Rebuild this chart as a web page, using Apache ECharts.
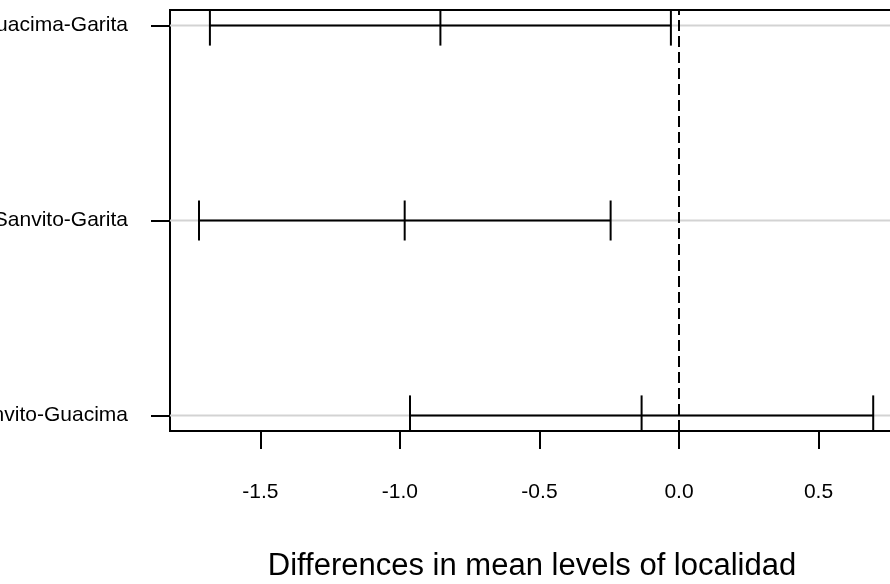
<!DOCTYPE html>
<html>
<head>
<meta charset="utf-8">
<script src="https://cdn.jsdelivr.net/npm/echarts@6/dist/echarts.min.js"></script>
<style>html,body{margin:0;padding:0;background:#fff;}#c{width:890px;height:584px;}</style>
</head>
<body>
<div id="c"></div>
<script>
// Comparisons, listed bottom to top (y position 1..3)
var comparisons = ['Sanvito-Guacima', 'Sanvito-Garita', 'Guacima-Garita'];
var diffs = [-0.134, -0.983, -0.855];
var lowers = [-0.964, -1.720, -1.681];
var uppers = [0.696, -0.245, -0.029];
var xTicks = [-1.5, -1.0, -0.5, 0.0, 0.5];
var xTitle = 'Differences in mean levels of localidad';

var FONT = '"Liberation Sans", Arial, sans-serif';
var data = comparisons.map(function (c, i) {
  return [lowers[i], diffs[i], uppers[i], i + 1];
});

var chart = echarts.init(document.getElementById('c'), null, {renderer: 'canvas'});
chart.setOption({
  animation: false,
  backgroundColor: '#fff',
  grid: {left: 170, top: 10, bottom: 153, right: -10, outerBoundsMode: 'none', containLabel: false,
    show: true, borderColor: '#000', borderWidth: 2, backgroundColor: 'transparent'},
  xAxis: {
    type: 'value', min: -1.824, max: 0.792, position: 'bottom',
    axisLine: {show: false, onZero: false},
    splitLine: {show: false},
    axisTick: {show: true, length: 18, customValues: xTicks, lineStyle: {color: '#000', width: 2}},
    axisLabel: {customValues: xTicks, margin: 51, color: '#000', fontSize: 21, fontFamily: FONT,
      formatter: function (v) { return v.toFixed(1); }}
  },
  yAxis: {
    type: 'value', min: 0.92, max: 3.08, position: 'left',
    axisLine: {show: false, onZero: false},
    splitLine: {show: false},
    axisTick: {show: true, length: 19, customValues: [1, 2, 3], lineStyle: {color: '#000', width: 2}},
    axisLabel: {customValues: [1, 2, 3], margin: 42, color: '#000', fontSize: 21, fontFamily: FONT,
      formatter: function (v) { return comparisons[Math.round(v) - 1] || ''; }}
  },
  graphic: [{
    type: 'text', x: 532, y: 566,
    style: {text: xTitle, fontSize: 31, fontFamily: FONT, fill: '#000', align: 'center', verticalAlign: 'middle'}
  }],
  series: [{
    type: 'custom',
    clip: true,
    data: data,
    encode: {x: [0, 1, 2], y: 3},
    renderItem: function (params, api) {
      var y = api.value(3);
      var l = api.coord([api.value(0), y]);
      var m = api.coord([api.value(1), y]);
      var u = api.coord([api.value(2), y]);
      var cs = params.coordSys;
      var h = 20;
      var st = {stroke: '#000', lineWidth: 2};
      return {
        type: 'group',
        children: [
          {type: 'line', shape: {x1: cs.x, y1: l[1], x2: cs.x + cs.width, y2: l[1]}, style: {stroke: '#d3d3d3', lineWidth: 2}},
          {type: 'line', shape: {x1: l[0], y1: l[1], x2: u[0], y2: u[1]}, style: st},
          {type: 'line', shape: {x1: l[0], y1: l[1] - h, x2: l[0], y2: l[1] + h}, style: st},
          {type: 'line', shape: {x1: m[0], y1: m[1] - h, x2: m[0], y2: m[1] + h}, style: st},
          {type: 'line', shape: {x1: u[0], y1: u[1] - h, x2: u[0], y2: u[1] + h}, style: st}
        ]
      };
    }
  }, {
    type: 'line',
    data: [],
    markLine: {
      silent: true, symbol: ['none', 'none'], label: {show: false},
      lineStyle: {color: '#000', width: 2, type: [11, 5]},
      data: [{xAxis: 0}]
    }
  }]
});
</script>
</body>
</html>
